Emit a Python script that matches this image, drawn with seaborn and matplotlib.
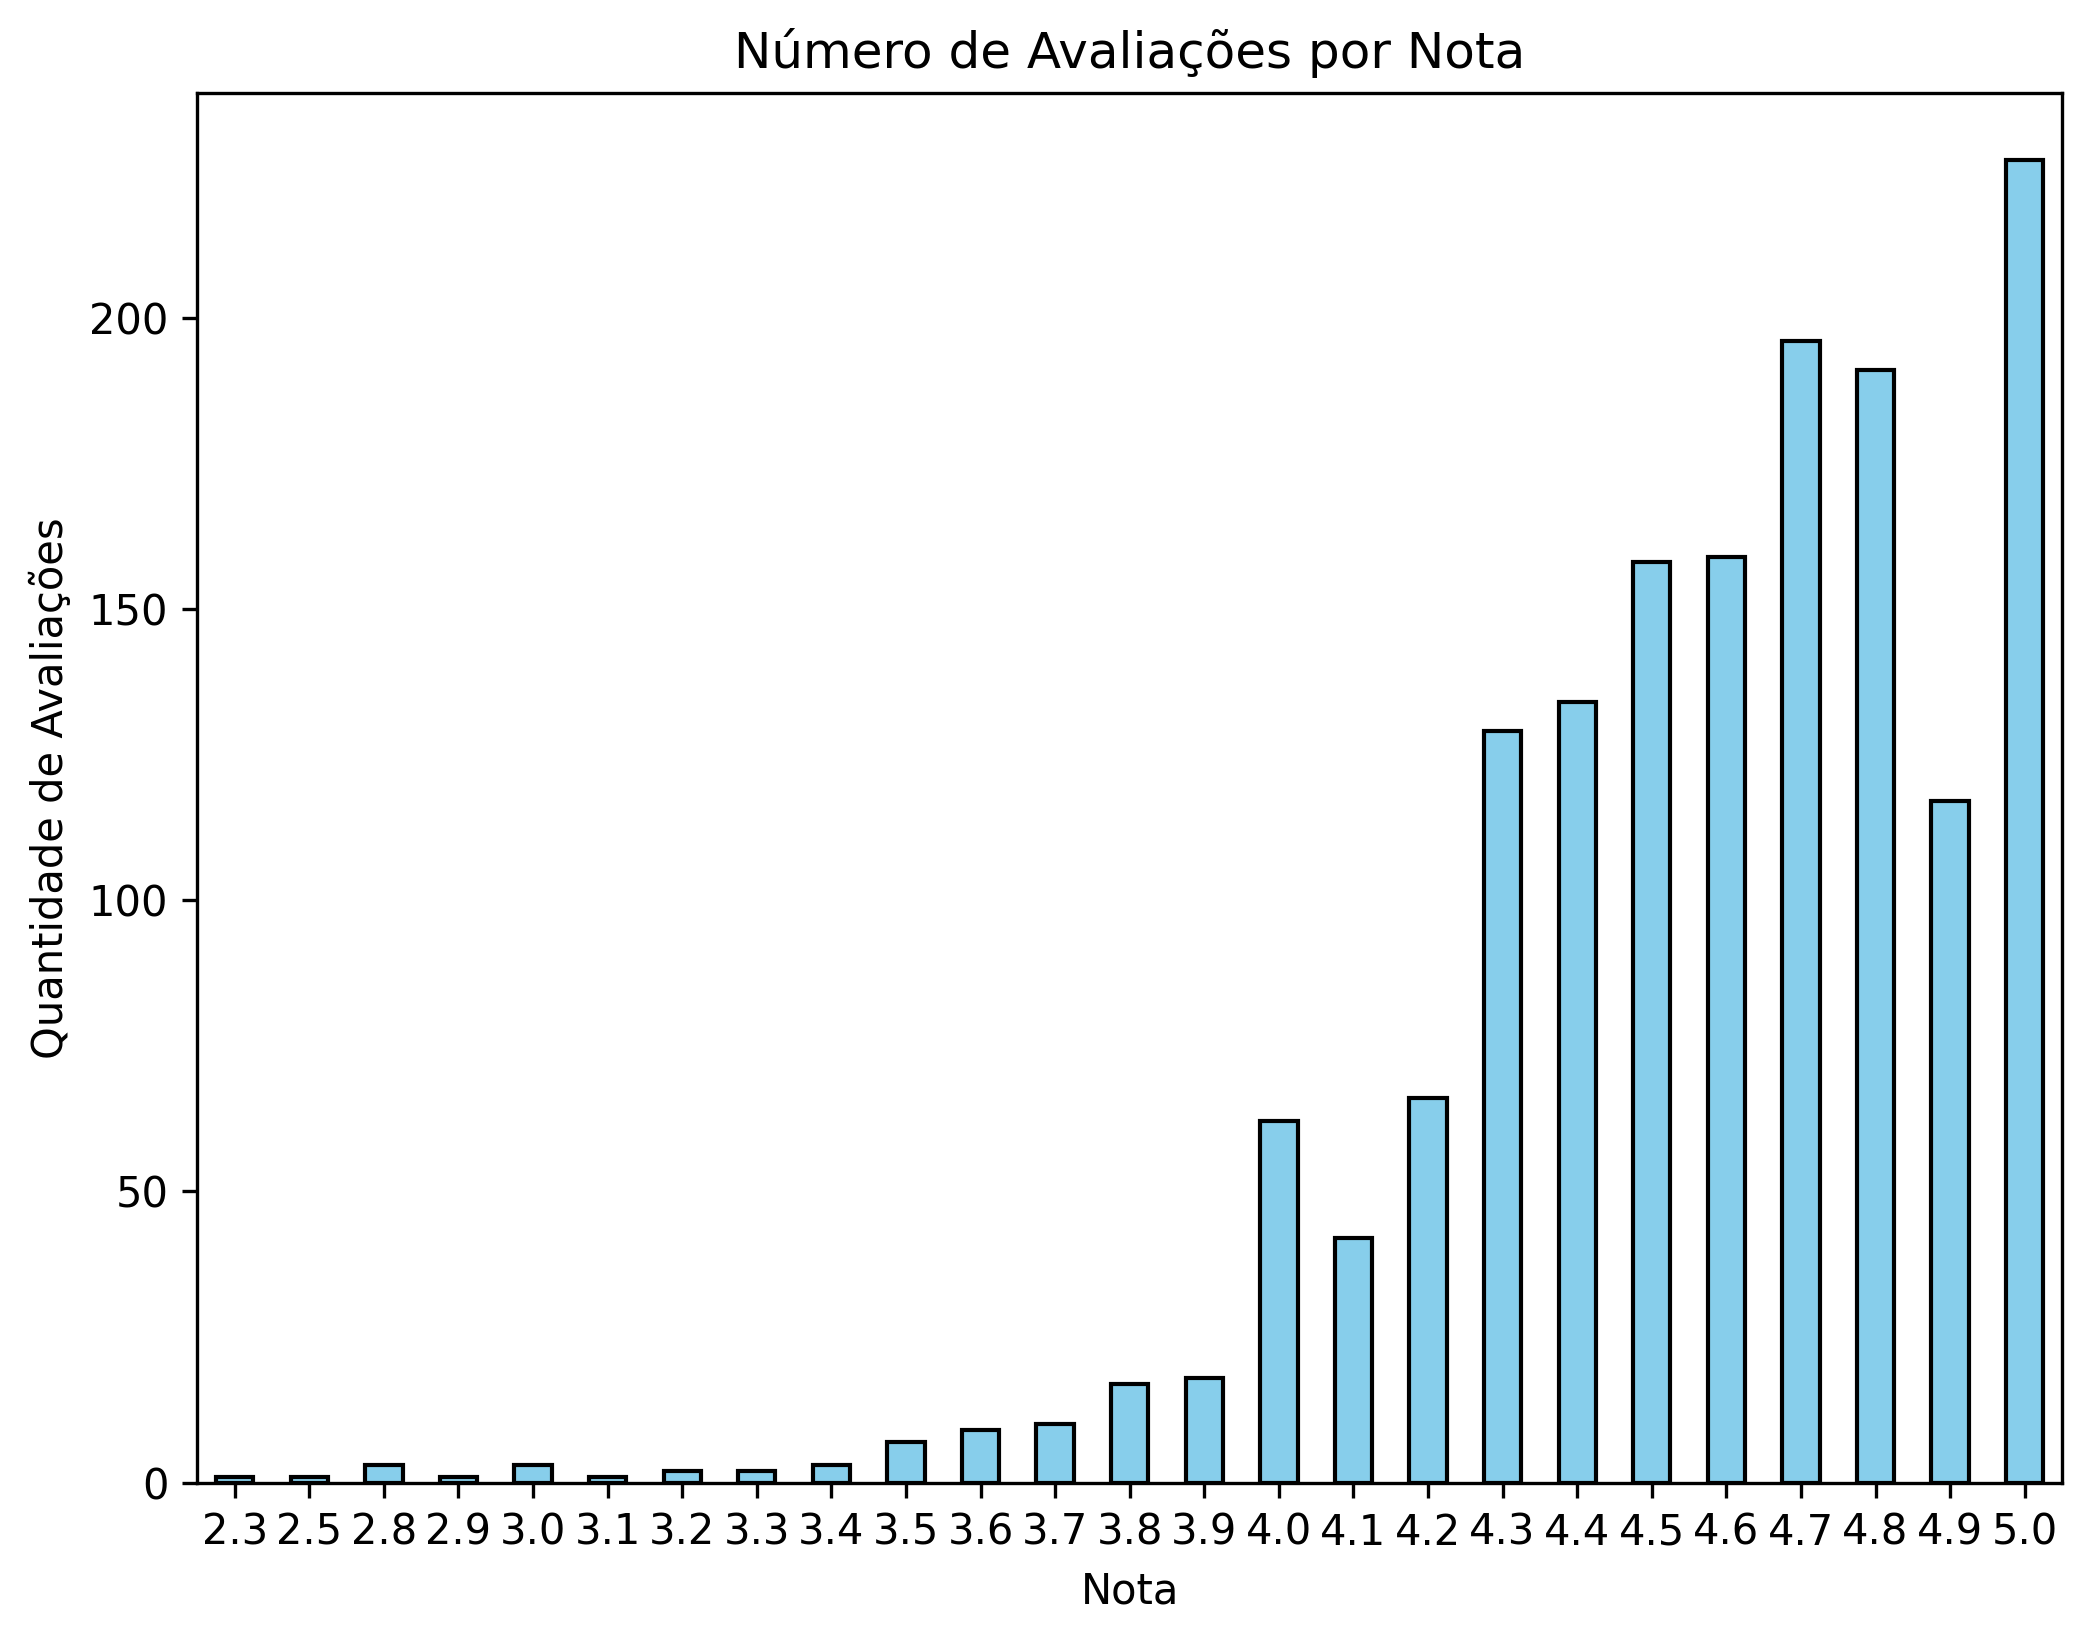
import matplotlib
matplotlib.use('Agg')
import matplotlib.pyplot as plt
import seaborn as sns
import pandas as pd

notas = ['2.3', '2.5', '2.8', '2.9', '3.0', '3.1', '3.2', '3.3', '3.4', '3.5',
         '3.6', '3.7', '3.8', '3.9', '4.0', '4.1', '4.2', '4.3', '4.4', '4.5',
         '4.6', '4.7', '4.8', '4.9', '5.0']
contagens = [1, 1, 3, 1, 3, 1, 2, 2, 3, 7, 9, 10, 17, 18, 62, 42, 66, 129,
             134, 158, 159, 196, 191, 117, 227]

df = pd.DataFrame({'Nota': notas, 'Quantidade': contagens})

plt.rcParams['font.family'] = 'DejaVu Sans'
fig = plt.figure(figsize=(2087 / 300, 1640 / 300), dpi=300)
ax = fig.add_axes([0.0946, 0.096, 0.8934, 0.847])

sns.barplot(data=df, x='Nota', y='Quantidade', color='skyblue',
            edgecolor='black', linewidth=1, width=0.5, saturation=1, ax=ax)
ax.set_xlim(-0.5, len(notas) - 0.5)
ax.set_ylim(0, 238.5)
ax.set_title('Número de Avaliações por Nota')
ax.set_xlabel('Nota')
ax.set_ylabel('Quantidade de Avaliações')
ax.tick_params(axis='x', rotation=0)

fig.savefig('out.png', dpi=300)
